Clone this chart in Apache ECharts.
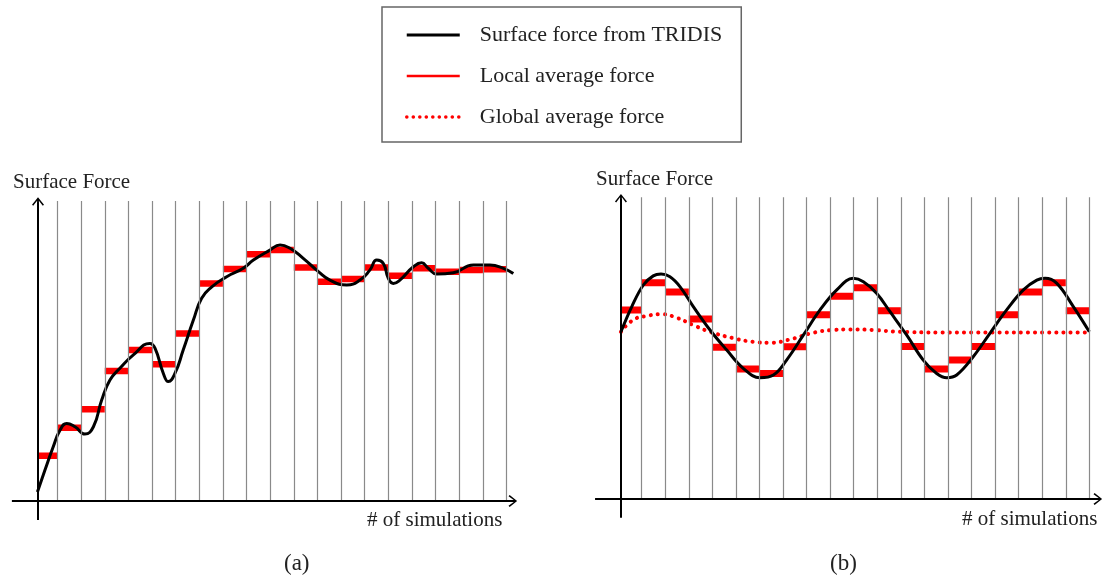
<!DOCTYPE html>
<html><head><meta charset="utf-8">
<script src="https://cdn.jsdelivr.net/npm/echarts@6/dist/echarts.min.js"></script>
<style>html,body{margin:0;padding:0;background:#fff}#c{width:1107px;height:578px}</style>
</head><body><div id="c"></div>
<script>
// ================= DATA =================
// simulation interval boundaries (vertical lines)
const boundaries = [1,2,3,4,5,6,7,8,9,10,11,12,13,14,15,16,17,18,19,20];

// panel (a)
const localA = [14.9, 24.2, 30.3, 42.9, 49.8, 45.1, 55.3, 71.8, 76.6, 81.4, 82.8, 77.1, 72.4, 73.3, 77.1, 74.3, 76.8, 75.7, 76.2, 76.5];
const curveAX = [0.15, 0.47, 0.82, 1.11, 1.39, 1.74, 2.16, 2.52, 2.87, 3.22, 3.64, 4.21, 4.91, 5.13, 5.48, 5.69, 5.97, 6.32, 6.75, 7.10, 7.53, 8.16, 8.86, 9.29, 9.99, 10.42, 10.84, 11.40, 12.04, 12.53, 13.24, 13.80, 14.22, 14.51, 14.79, 15.00, 15.21, 15.49, 16.06, 16.41, 16.69, 17.05, 17.75, 18.60, 19.30, 19.87, 20.29];
const curveAY = [3.0, 10.2, 17.9, 23.4, 25.6, 24.5, 22.1, 24.5, 33.3, 39.9, 43.8, 48.2, 52.0, 50.4, 42.1, 39.4, 42.1, 49.8, 59.7, 66.9, 70.7, 74.0, 76.8, 79.5, 82.8, 84.5, 83.4, 80.1, 75.7, 72.9, 71.3, 72.9, 76.2, 79.5, 78.4, 73.5, 71.8, 72.9, 77.3, 78.6, 76.8, 74.9, 75.3, 77.9, 77.9, 76.8, 75.1];

// panel (b)
const localB = [62.2, 71.1, 68.1, 59.2, 49.9, 42.8, 41.3, 50.1, 60.6, 66.7, 69.5, 61.9, 50.2, 42.8, 45.7, 50.2, 60.6, 68.1, 71.1, 61.9];
const curveBX = [0.12, 0.58, 1.07, 1.49, 1.82, 2.20, 2.63, 3.19, 3.90, 4.61, 5.31, 6.02, 6.59, 7.15, 7.86, 8.57, 9.28, 9.98, 10.41, 10.97, 11.54, 12.25, 12.95, 13.52, 13.95, 14.37, 15.07, 15.78, 16.49, 17.20, 17.77, 18.12, 18.61, 19.32, 20.00];
const curveBY = [55.0, 63.3, 70.4, 73.4, 74.0, 73.1, 69.8, 63.3, 55.6, 49.0, 43.0, 39.9, 40.8, 45.7, 53.9, 62.2, 68.8, 72.6, 71.5, 67.7, 61.6, 53.9, 45.7, 41.3, 39.9, 40.8, 46.8, 54.5, 62.2, 68.8, 72.0, 72.6, 71.0, 63.3, 55.0];
const globalBX = [0.12, 0.64, 1.21, 1.82, 2.49, 3.19, 3.90, 4.89, 5.74, 6.45, 7.29, 8.29, 9.13, 9.84, 10.83, 11.96, 13.66, 20.00];
const globalBY = [55.0, 58.9, 60.2, 60.8, 59.6, 57.2, 55.0, 52.9, 51.7, 51.4, 52.5, 54.7, 55.6, 55.8, 55.6, 55.0, 54.8, 54.8];

// ================= LAYOUT / STYLE =================
const FONT = 'Liberation Serif';
const chev = 'path://M6,0 L12,7.5 L10.8,8.6 L6.9,3.4 L6.9,10 L5.1,10 L5.1,3.4 L1.2,8.6 L0,7.5 Z';
const panels = [
  {yAxisU: 0.175, xStart: -0.93, xEnd: 20.24, yBottom: -6.3, yEnd: 98.6, gridTop: 99.0},
  {yAxisU: 0.12,  xStart: -0.98, xEnd: 20.33, yBottom: -6.2, yEnd: 98.7, gridTop: 99.3}
];

const zip = (xs, ys) => xs.map((x, i) => [x, ys[i]]);
function segData(vals, startU) {
  const d = [];
  vals.forEach((v, i) => {
    d.push([i === 0 ? startU : i, v], [i + 1, v], [i + 1, '-']);
  });
  return d;
}

function frame(idx) {
  const p = panels[idx];
  return [
    {
      type: 'line', xAxisIndex: idx, yAxisIndex: idx, data: [], silent: true, z: 1,
      markLine: {
        silent: true, symbol: 'none', label: {show: false},
        lineStyle: {color: '#8a8a8a', width: 1.2, type: 'solid'},
        emphasis: {disabled: true},
        data: boundaries.map(b => [{coord: [b, 0]}, {coord: [b, p.gridTop]}])
      }
    },
    {
      type: 'line', xAxisIndex: idx, yAxisIndex: idx, data: [], silent: true, z: 5,
      markLine: {
        silent: true, symbol: ['none', chev], symbolSize: [12, 10], label: {show: false},
        lineStyle: {color: '#000', width: 2, type: 'solid'},
        itemStyle: {color: '#000'},
        emphasis: {disabled: true},
        data: [
          [{coord: [p.xStart, 0]}, {coord: [p.xEnd, 0]}],
          [{coord: [p.yAxisU, p.yBottom]}, {coord: [p.yAxisU, p.yEnd]}]
        ]
      }
    }
  ];
}

const titleStyle = {fontFamily: FONT, fontSize: 21, fontWeight: 'normal', color: '#222'};

const option = {
  animation: false,
  backgroundColor: '#fff',
  title: [
    {text: 'Surface Force', left: 13, top: 172, padding: 0, textStyle: titleStyle},
    {text: 'Surface Force', left: 596, top: 169, padding: 0, textStyle: titleStyle},
    {text: '# of simulations', left: 367, top: 510, padding: 0, textStyle: titleStyle},
    {text: '# of simulations', left: 962, top: 509, padding: 0, textStyle: titleStyle},
    {text: '(a)', left: 284, top: 552, padding: 0, textStyle: Object.assign({}, titleStyle, {fontSize: 23})},
    {text: '(b)', left: 830, top: 552, padding: 0, textStyle: Object.assign({}, titleStyle, {fontSize: 23})}
  ],
  legend: {
    left: 382, top: 7, orient: 'vertical', selectedMode: false,
    itemWidth: 53, itemHeight: 14, itemGap: 19,
    padding: [17, 19, 14, 23],
    borderColor: '#666', borderWidth: 1.5,
    itemStyle: {opacity: 0, borderWidth: 0},
    textStyle: {fontFamily: FONT, fontSize: 22, color: '#222', padding: [0, 0, 0, 15]},
    data: [
      {name: 'Surface force from TRIDIS', lineStyle: {width: 3}},
      {name: 'Local average force', lineStyle: {width: 2.5}},
      {name: 'Global average force', lineStyle: {width: 3.5, type: [0.1, 6.4], cap: 'round'}}
    ]
  },
  grid: [
    {left: 5.51, top: 198, width: 515.13, height: 324.2, containLabel: false},
    {left: 589.87, top: 195, width: 515.96, height: 325.3, containLabel: false}
  ],
  xAxis: [
    {type: 'value', gridIndex: 0, min: -1.2, max: 20.6, show: false},
    {type: 'value', gridIndex: 1, min: -1.2, max: 20.7, show: false}
  ],
  yAxis: [
    {type: 'value', gridIndex: 0, min: -7, max: 100, show: false},
    {type: 'value', gridIndex: 1, min: -7, max: 100, show: false}
  ],
  series: [
    ...frame(0),
    ...frame(1),
    {
      name: 'Local average force', type: 'line', xAxisIndex: 0, yAxisIndex: 0,
      data: segData(localA, panels[0].yAxisU), symbol: 'none', connectNulls: false, z: 3,
      lineStyle: {color: '#ff0000', width: 6.5, cap: 'butt'}, itemStyle: {color: '#ff0000'}
    },
    {
      name: 'Surface force from TRIDIS', type: 'line', xAxisIndex: 0, yAxisIndex: 0,
      data: zip(curveAX, curveAY), symbol: 'none', smooth: 0.5, z: 4,
      lineStyle: {color: '#000', width: 3}, itemStyle: {color: '#000'}
    },
    {
      name: 'Global average force', type: 'line', xAxisIndex: 1, yAxisIndex: 1,
      data: zip(globalBX, globalBY), symbol: 'none', smooth: 0.5, z: 2,
      lineStyle: {color: '#ff0000', width: 4, type: [0.1, 7], cap: 'round'}, itemStyle: {color: '#ff0000'}
    },
    {
      name: 'Local average force', type: 'line', xAxisIndex: 1, yAxisIndex: 1,
      data: segData(localB, panels[1].yAxisU), symbol: 'none', connectNulls: false, z: 3,
      lineStyle: {color: '#ff0000', width: 7, cap: 'butt'}, itemStyle: {color: '#ff0000'}
    },
    {
      name: 'Surface force from TRIDIS', type: 'line', xAxisIndex: 1, yAxisIndex: 1,
      data: zip(curveBX, curveBY), symbol: 'none', smooth: 0.4, z: 4,
      lineStyle: {color: '#000', width: 3}, itemStyle: {color: '#000'}
    }
  ]
};

const chart = echarts.init(document.getElementById('c'), null, {renderer: 'canvas'});
chart.setOption(option);
</script>
</body></html>
